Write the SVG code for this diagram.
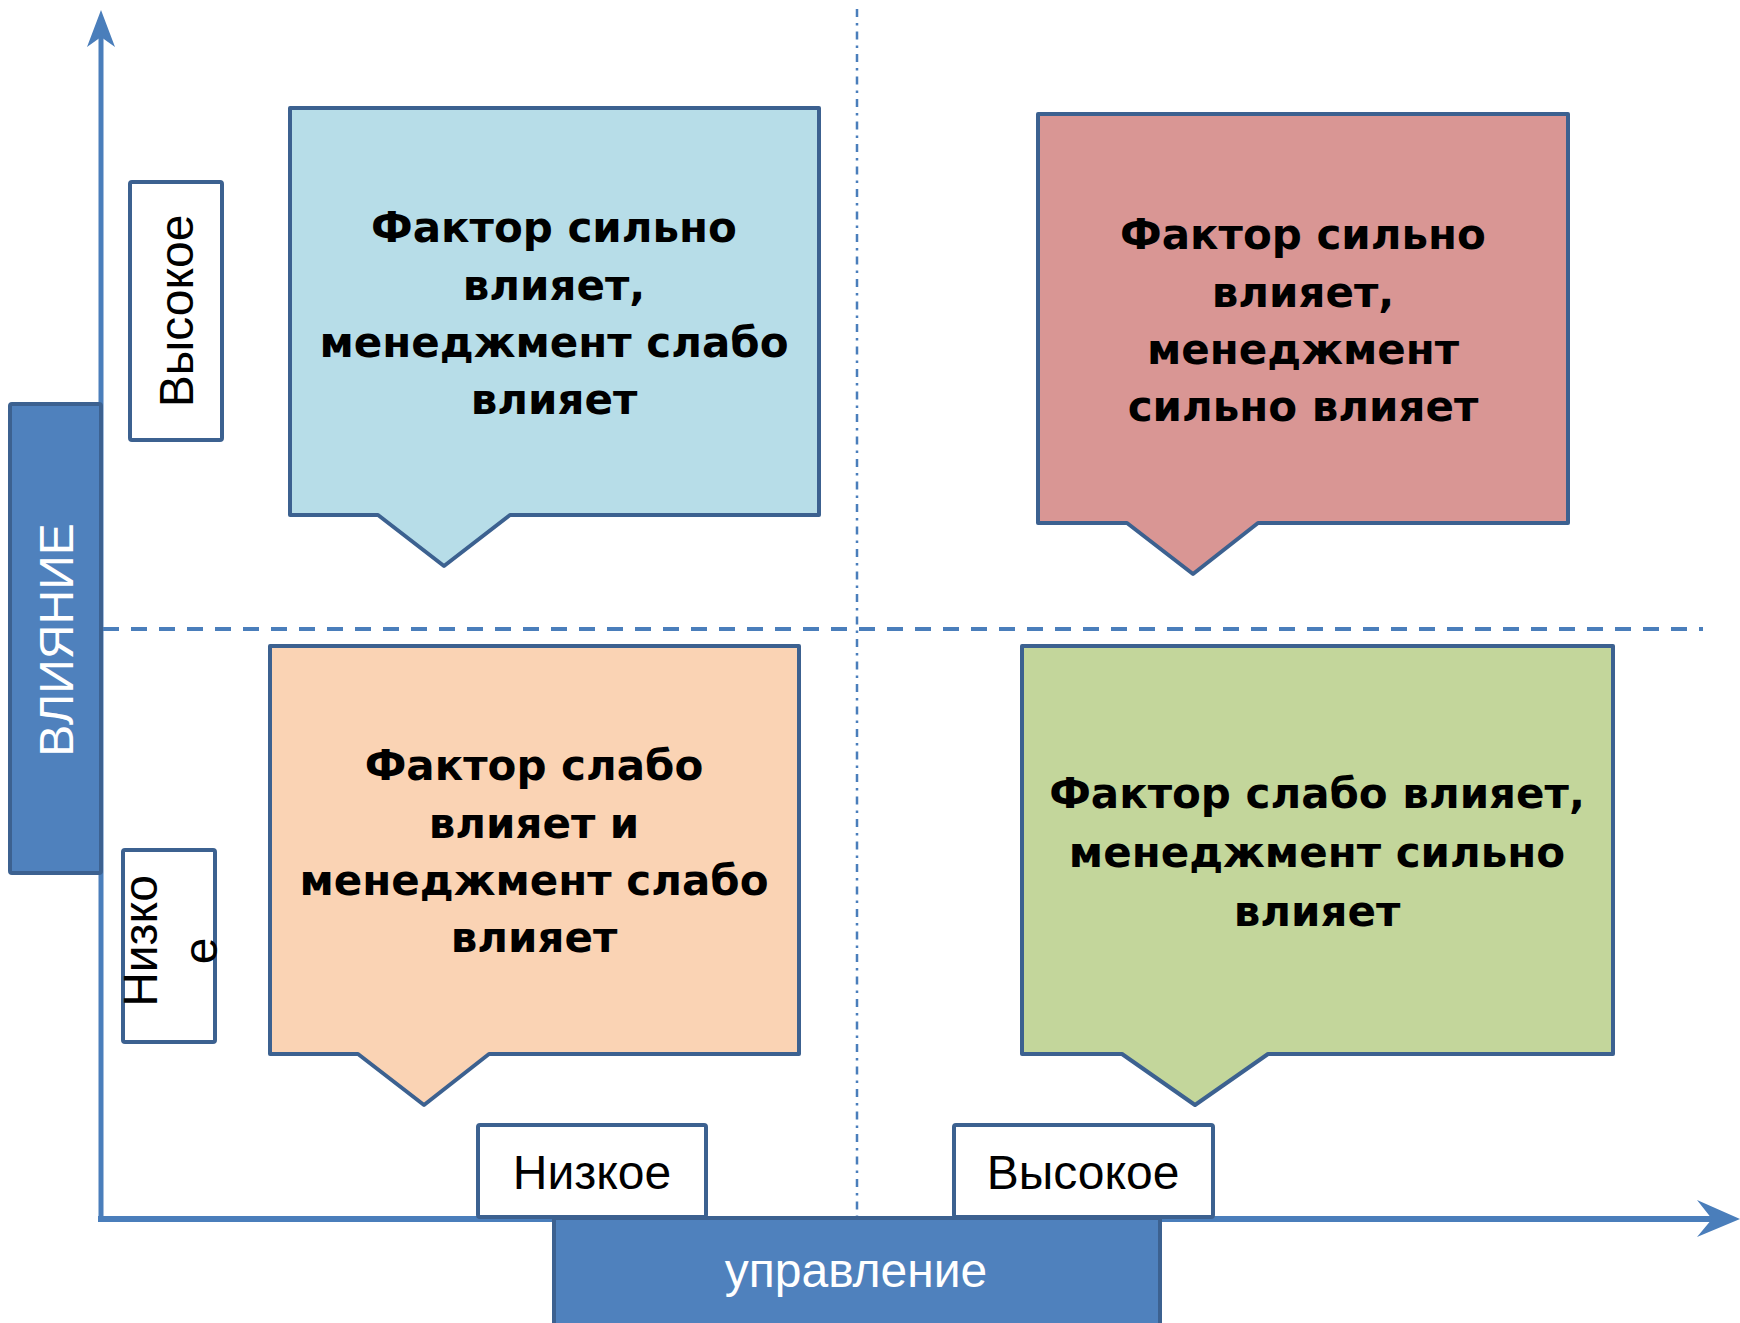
<svg xmlns="http://www.w3.org/2000/svg" width="1740" height="1323" viewBox="0 0 1740 1323">
<style>
.axis{stroke:#4A7EBB;fill:none}
.arrow{fill:#4A7EBB;stroke:none}
.box{stroke:#3C6190;stroke-width:4;stroke-linejoin:round}
.lbl{font-family:"Liberation Sans",Arial,sans-serif;font-size:48px;fill:#000}
.wlbl{font-family:"Liberation Sans",Arial,sans-serif;font-size:48px;fill:#fff}
.ct{font-family:"DejaVu Sans","Liberation Sans",sans-serif;font-weight:bold;font-size:42px;fill:#000;text-anchor:middle}
</style>
<rect width="1740" height="1323" fill="#fff"/>
<g id="connectors">
<line class="axis" x1="857" y1="9" x2="857" y2="1216" stroke-width="2.5" stroke-dasharray="8 6 2.5 6"/>
<line class="axis" x1="103" y1="629" x2="1703" y2="629" stroke-width="4" stroke-dasharray="16 12"/>
<line class="axis" x1="101" y1="1218" x2="101" y2="36" stroke-width="5"/>
<path class="arrow" d="M101,10 L115,47 L101,37 L87,47 Z"/>
<line class="axis" x1="98" y1="1219" x2="1714" y2="1219" stroke-width="6"/>
<path class="arrow" d="M1740,1219 L1697,1237 L1712,1219 L1697,1200 Z"/>
</g>
<g id="axis-y-label">
<rect class="box" x="10" y="404" width="91" height="469" fill="#4F81BD" rx="2"/>
<text class="wlbl" text-anchor="middle" transform="translate(73,640) rotate(-90)">ВЛИЯНИЕ</text>
</g>
<g id="y-high">
<rect class="box" x="130" y="182" width="92" height="258" fill="#fff" rx="2"/>
<text class="lbl" text-anchor="middle" transform="translate(193,311) rotate(-90)">Высокое</text>
</g>
<g id="y-low">
<rect class="box" x="123" y="850" width="92" height="192" fill="#fff" rx="2"/>
<text class="lbl" text-anchor="middle" transform="translate(157,941) rotate(-90)">Низко</text>
<text class="lbl" text-anchor="middle" transform="translate(217,951) rotate(-90)">е</text>
</g>
<g id="x-low">
<rect class="box" x="478" y="1125" width="228" height="92" fill="#fff" rx="2"/>
<text class="lbl" text-anchor="middle" x="592" y="1189">Низкое</text>
</g>
<g id="x-high">
<rect class="box" x="954" y="1125" width="259" height="92" fill="#fff" rx="2"/>
<text class="lbl" text-anchor="middle" x="1083" y="1189">Высокое</text>
</g>
<g id="axis-x-label">
<rect class="box" x="554" y="1218" width="606" height="115" fill="#4F81BD"/>
<text class="wlbl" text-anchor="middle" x="856" y="1287">управление</text>
</g>
<g id="q-blue">
<path class="box" d="M290,108 H819 V515 H510 L444,566 L378,515 H290 Z" fill="#B7DDE8"/>
<text class="ct" x="554"><tspan x="554" y="242">Фактор сильно</tspan><tspan x="554" y="300">влияет,</tspan><tspan x="554" y="357">менеджмент слабо</tspan><tspan x="554" y="414">влияет</tspan></text>
</g>
<g id="q-red">
<path class="box" d="M1038,114 H1568 V523 H1258 L1193,574 L1127,523 H1038 Z" fill="#D99694"/>
<text class="ct"><tspan x="1303" y="249">Фактор сильно</tspan><tspan x="1303" y="307">влияет,</tspan><tspan x="1303" y="364">менеджмент</tspan><tspan x="1303" y="421">сильно влияет</tspan></text>
</g>
<g id="q-orange">
<path class="box" d="M270,646 H799 V1054 H489 L424,1105 L358,1054 H270 Z" fill="#FAD3B4"/>
<text class="ct"><tspan x="534" y="780">Фактор слабо</tspan><tspan x="534" y="838">влияет и</tspan><tspan x="534" y="895">менеджмент слабо</tspan><tspan x="534" y="952">влияет</tspan></text>
</g>
<g id="q-green">
<path class="box" d="M1022,646 H1613 V1054 H1268 L1195,1105 L1122,1054 H1022 Z" fill="#C3D69B"/>
<text class="ct"><tspan x="1317" y="808">Фактор слабо влияет,</tspan><tspan x="1317" y="867">менеджмент сильно</tspan><tspan x="1317" y="926">влияет</tspan></text>
</g>
</svg>
